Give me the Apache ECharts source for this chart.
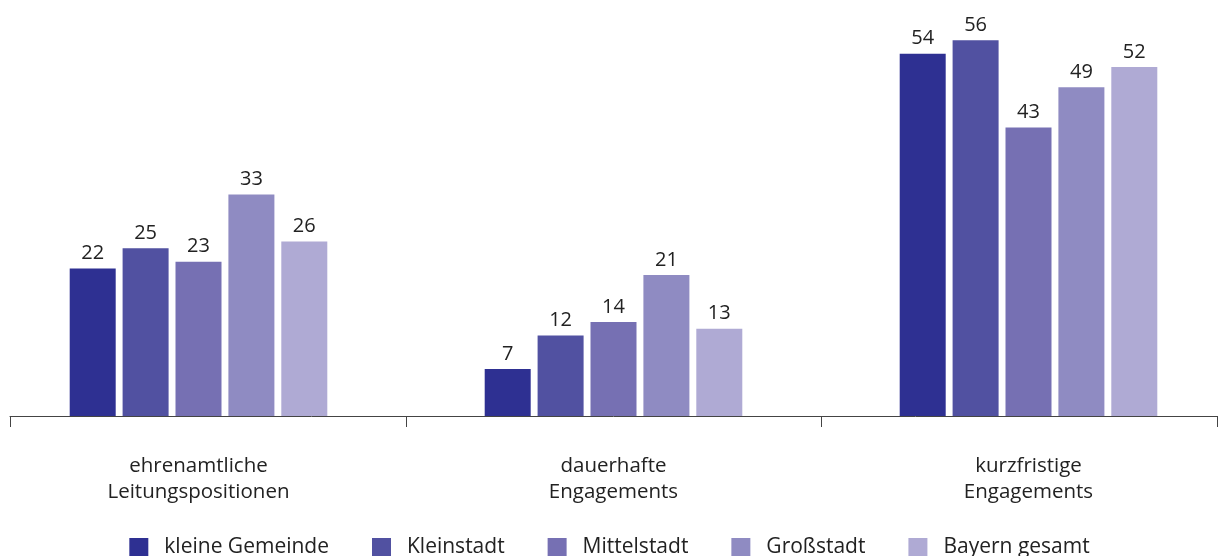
<!DOCTYPE html>
<html><head><meta charset="utf-8">
<script src="https://cdn.jsdelivr.net/npm/echarts@6/dist/echarts.min.js"></script>
<style>html,body{margin:0;padding:0;background:#fff}#c{width:1219px;height:556px}</style>
</head><body><div id="c"></div>
<script>
const categories = ['ehrenamtliche\nLeitungspositionen', 'dauerhafte\nEngagements', 'kurzfristige\nEngagements'];
const seriesNames = ['kleine Gemeinde', 'Kleinstadt', 'Mittelstadt', 'Großstadt', 'Bayern gesamt'];
const kleineGemeinde = [22, 7, 54];
const kleinstadt = [25, 12, 56];
const mittelstadt = [23, 14, 43];
const grossstadt = [33, 21, 49];
const bayernGesamt = [26, 13, 52];
const values = [kleineGemeinde, kleinstadt, mittelstadt, grossstadt, bayernGesamt];
const colors = ['#2e3092', '#5151a1', '#7670b3', '#8f8bc2', '#afaad4'];
const font = '"Open Sans", sans-serif';

const chart = echarts.init(document.getElementById('c'), null, {renderer: 'canvas'});
chart.setOption({
  animation: false,
  color: colors,
  textStyle: {fontFamily: font},
  legend: {
    data: seriesNames,
    top: 532,
    left: 'center',
    itemWidth: 19, itemHeight: 19, itemGap: 43,
    icon: 'rect',
    textStyle: {fontSize: 21, color: '#222', fontFamily: font, padding: [0, 0, 0, 11]}
  },
  grid: [
    {left: -9, width: 1245, top: 0, height: 416, containLabel: false, outerBoundsMode: 'none'},
    {left: 10, width: 1207, top: 0, height: 416, containLabel: false, outerBoundsMode: 'none'}
  ],
  xAxis: [
    {type: 'category', data: categories, gridIndex: 0,
     axisLine: {show: false},
     axisTick: {show: true, length: 11, lineStyle: {color: '#444', width: 1}},
     axisLabel: {fontSize: 20.5, color: '#222', lineHeight: 26, margin: 37, fontFamily: font}},
    {type: 'value', gridIndex: 1, min: 0, max: 1, interval: 1,
     axisLine: {show: true, lineStyle: {color: '#444', width: 1}},
     axisTick: {show: true, length: 11, lineStyle: {color: '#444', width: 1}},
     axisLabel: {show: false}, splitLine: {show: false}}
  ],
  yAxis: [
    {type: 'value', gridIndex: 0, min: 0, max: 62, show: false},
    {type: 'value', gridIndex: 1, min: 0, max: 1, show: false}
  ],
  series: seriesNames.map((n, i) => ({
    name: n, type: 'bar', xAxisIndex: 0, yAxisIndex: 0,
    data: values[i], barWidth: 46, barGap: '15%',
    itemStyle: {color: colors[i]},
    label: {show: true, position: 'top', distance: 5, fontSize: 20, color: '#222', fontFamily: font}
  }))
});
</script></body></html>
